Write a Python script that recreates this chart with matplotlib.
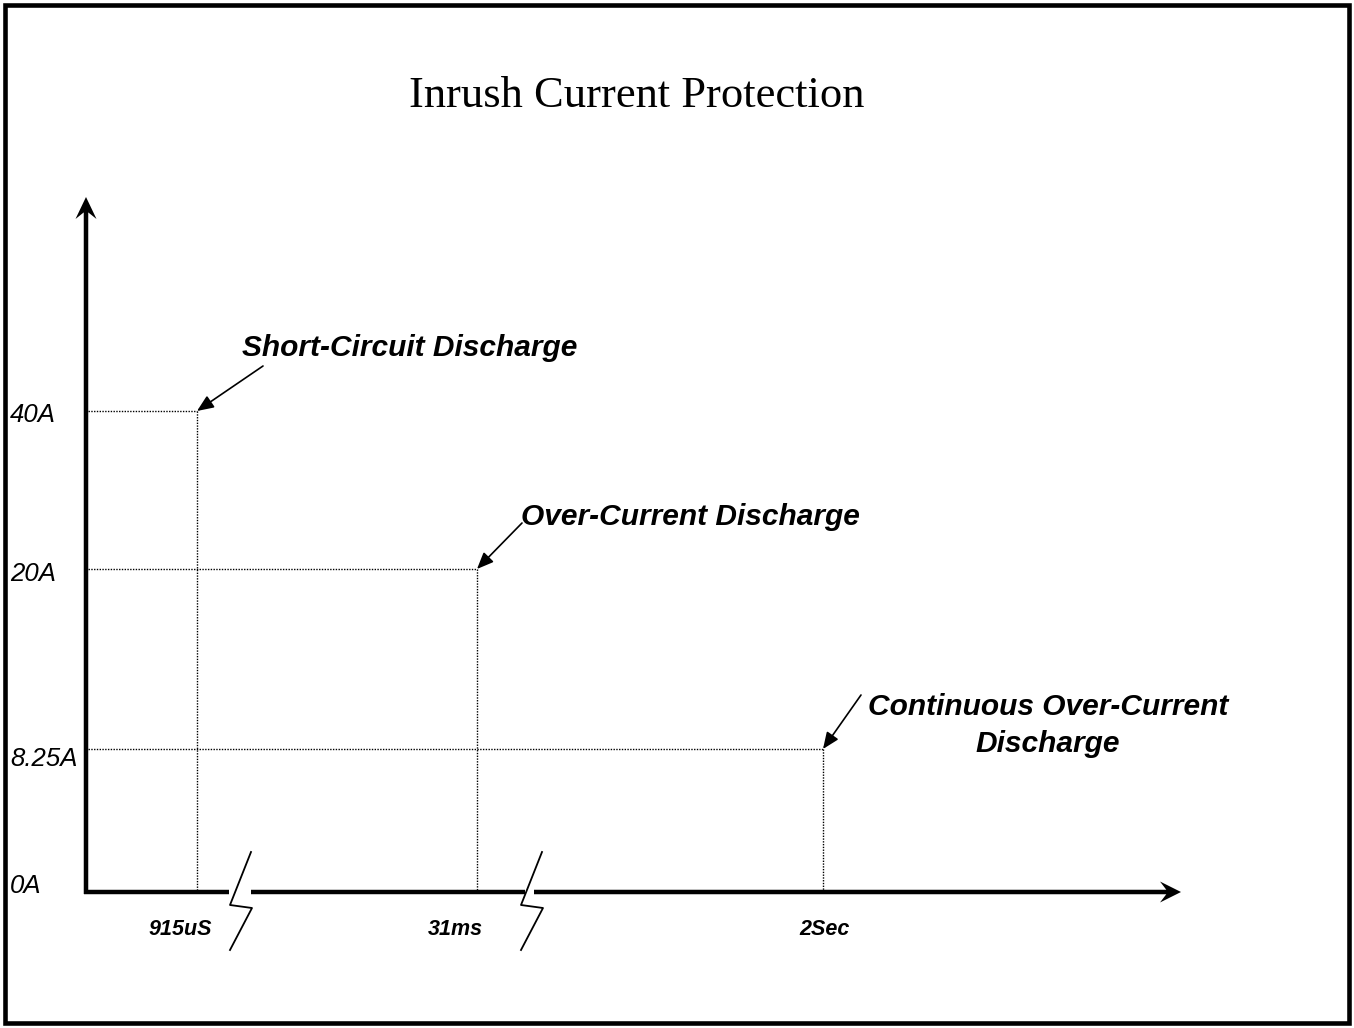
import numpy as np
import matplotlib.pyplot as plt
from matplotlib.patches import Rectangle

# chart content
title = 'Inrush Current Protection'
current_labels = ['0A', '8.25A', '20A', '40A']
time_labels = ['915uS', '31ms', '2Sec']
event_labels = ['Short-Circuit Discharge', 'Over-Current Discharge',
                'Continuous Over-Current\nDischarge']
event_current = ['40A', '20A', '8.25A']
event_time = ['915uS', '31ms', '2Sec']

# layout in pixels (y grows downward), the schematic axes are not to scale
level_y = {'0A': 892, '8.25A': 749, '20A': 569, '40A': 411}
level_text_y = {'0A': 893, '8.25A': 766, '20A': 581, '40A': 422}
time_x = {'915uS': 197, '31ms': 477, '2Sec': 823}
time_text_x = {'915uS': 180, '31ms': 455, '2Sec': 825}
origin = (86, 892)
x_end = 1181
y_end = 197
breaks = [(229, 251, 240), (525, 534, 531)]   # gap start, gap end, zigzag center
zig_dx = [11, -10, 12, -10]
zig_dy = [-40, 13, 16, 58]
# text center x, first baseline y, arrow tail x, arrow tail y
event_layout = [(410, 356, 263, 366), (690, 525, 522, 523), (1048, 715, 861, 695)]

sans = 'Liberation Sans'

fig = plt.figure(figsize=(13.54, 10.28), dpi=100)
ax = fig.add_axes([0, 0, 1, 1])
ax.set_xlim(0, 1354)
ax.set_ylim(1028, 0)
ax.axis('off')

# frame
ax.add_patch(Rectangle((5, 5), 1344, 1018, fill=False, lw=3.3, ec='black'))

ax.text(637, 107, title, family='Liberation Serif', fontsize=32,
        ha='center', va='baseline')

ox, oy = origin
# y axis
ax.arrow(ox, oy + 2, 0, y_end - oy - 2, width=4.5, head_width=21, head_length=22,
         overhang=0.3, length_includes_head=True, fc='black', ec='none')
# x axis with break gaps
xs = [ox - 2]
for g0, g1, c in breaks:
    xs += [g0, g1]
for i in range(len(breaks)):
    ax.plot([xs[2 * i], xs[2 * i + 1]], [oy, oy], color='black', lw=3.2,
            solid_capstyle='butt')
ax.arrow(xs[-1], oy, x_end - xs[-1], 0, width=4.5, head_width=21, head_length=21,
         overhang=0.3, length_includes_head=True, fc='black', ec='none')
for g0, g1, c in breaks:
    ax.plot(np.array(zig_dx) + c, np.array(zig_dy) + oy, color='black', lw=1.3)

# current level labels
for lab in current_labels:
    ax.text(10, level_text_y[lab], lab, family=sans, style='italic', fontsize=18.5,
            ha='left', va='baseline')

# time labels
for lab in time_labels:
    ax.text(time_text_x[lab], 935, lab, family=sans, style='italic', weight='bold',
            fontsize=15.5, ha='center', va='baseline')

# dotted guides and annotations
for ev, cur, t, lay in zip(event_labels, event_current, event_time, event_layout):
    x, y = time_x[t], level_y[cur]
    ax.plot([ox + 2, x], [y, y], color='black', lw=1, dashes=(1, 1))
    ax.plot([x, x], [y, oy - 2], color='black', lw=1, dashes=(1, 1))
    tx, ty, ax0, ay0 = lay
    for k, line in enumerate(ev.split('\n')):
        ax.text(tx, ty + 37 * k, line, family=sans, style='italic', weight='bold',
                fontsize=21.5, ha='center', va='baseline')
    ax.annotate('', xy=(x, y), xytext=(ax0, ay0),
                arrowprops=dict(arrowstyle='-|>,head_length=1.0,head_width=0.42',
                                color='black', lw=1.2, shrinkA=0, shrinkB=0))

fig.savefig('out.png', dpi=100, facecolor='white')
